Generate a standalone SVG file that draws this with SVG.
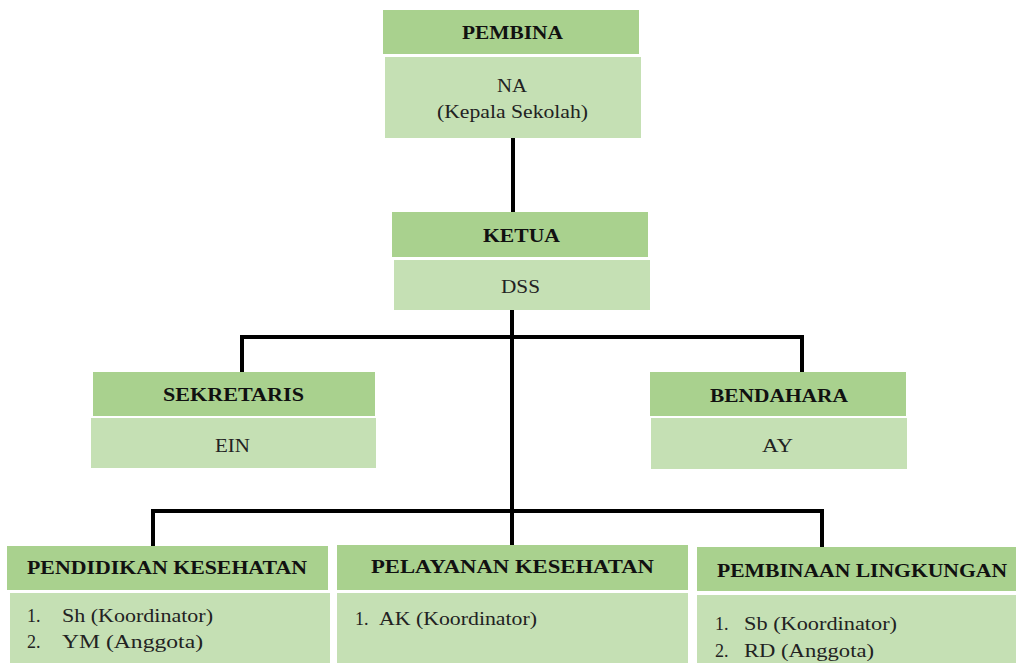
<svg xmlns="http://www.w3.org/2000/svg" width="1016" height="663" viewBox="0 0 1016 663">
<style>
.hd{fill:#A9D18E}
.bd{fill:#C5E0B4}
.b{font-weight:bold;font-size:18px;fill:#111}
.t{font-size:18px;fill:#222}
.ln{fill:none;stroke:#000;stroke-width:4}
</style>
<rect width="1016" height="663" fill="#fff"/>
<g id="connectors">
<path class="ln" d="M513 138V212"/>
<path class="ln" d="M512 310V546"/>
<path class="ln" d="M242 372V337H802V372"/>
<path class="ln" d="M153 546V511H822V547"/>
</g>
<g font-family="Liberation Serif, DejaVu Serif, serif">
<g id="pembina">
<rect class="hd" x="383" y="10" width="256" height="44"/>
<rect class="bd" x="385" y="57" width="256" height="81"/>
<text class="b" x="462" y="39" textLength="101" lengthAdjust="spacingAndGlyphs">PEMBINA</text>
<text class="t" x="497" y="92" textLength="30" lengthAdjust="spacingAndGlyphs">NA</text>
<text class="t" x="437" y="118" textLength="151" lengthAdjust="spacingAndGlyphs">(Kepala Sekolah)</text>
</g>
<g id="ketua">
<rect class="hd" x="392" y="212" width="256" height="45"/>
<rect class="bd" x="394" y="260" width="256" height="50"/>
<text class="b" x="483" y="242" textLength="77" lengthAdjust="spacingAndGlyphs">KETUA</text>
<text class="t" x="501" y="293" textLength="39" lengthAdjust="spacingAndGlyphs">DSS</text>
</g>
<g id="sekretaris">
<rect class="hd" x="93" y="372" width="282" height="44"/>
<rect class="bd" x="91" y="418" width="285" height="50"/>
<text class="b" x="163" y="401" textLength="141" lengthAdjust="spacingAndGlyphs">SEKRETARIS</text>
<text class="t" x="215" y="452" textLength="35" lengthAdjust="spacingAndGlyphs">EIN</text>
</g>
<g id="bendahara">
<rect class="hd" x="650" y="372" width="256" height="44"/>
<rect class="bd" x="651" y="418" width="256" height="51"/>
<text class="b" x="710" y="402" textLength="138" lengthAdjust="spacingAndGlyphs">BENDAHARA</text>
<text class="t" x="762" y="452" textLength="31" lengthAdjust="spacingAndGlyphs">AY</text>
</g>
<g id="pendidikan">
<rect class="hd" x="7" y="546" width="321" height="44"/>
<rect class="bd" x="10" y="593" width="320" height="70"/>
<text class="b" x="27" y="574" textLength="280" lengthAdjust="spacingAndGlyphs">PENDIDIKAN KESEHATAN</text>
<text class="t" x="27" y="622">1.</text>
<text class="t" x="62" y="622" textLength="151" lengthAdjust="spacingAndGlyphs">Sh  (Koordinator)</text>
<text class="t" x="27" y="648">2.</text>
<text class="t" x="62" y="648" textLength="141" lengthAdjust="spacingAndGlyphs">YM (Anggota)</text>
</g>
<g id="pelayanan">
<rect class="hd" x="337" y="545" width="351" height="45"/>
<rect class="bd" x="337" y="593" width="351" height="70"/>
<text class="b" x="371" y="573" textLength="283" lengthAdjust="spacingAndGlyphs">PELAYANAN  KESEHATAN</text>
<text class="t" x="355" y="625">1.</text>
<text class="t" x="379" y="625" textLength="158" lengthAdjust="spacingAndGlyphs">AK (Koordinator)</text>
</g>
<g id="pembinaan">
<rect class="hd" x="697" y="547" width="319" height="44"/>
<rect class="bd" x="697" y="595" width="319" height="68"/>
<text class="b" x="717" y="577" textLength="290" lengthAdjust="spacingAndGlyphs">PEMBINAAN LINGKUNGAN</text>
<text class="t" x="715" y="630">1.</text>
<text class="t" x="744" y="630" textLength="153" lengthAdjust="spacingAndGlyphs">Sb (Koordinator)</text>
<text class="t" x="715" y="657">2.</text>
<text class="t" x="744" y="657" textLength="130" lengthAdjust="spacingAndGlyphs">RD (Anggota)</text>
</g>
</g>
</svg>
